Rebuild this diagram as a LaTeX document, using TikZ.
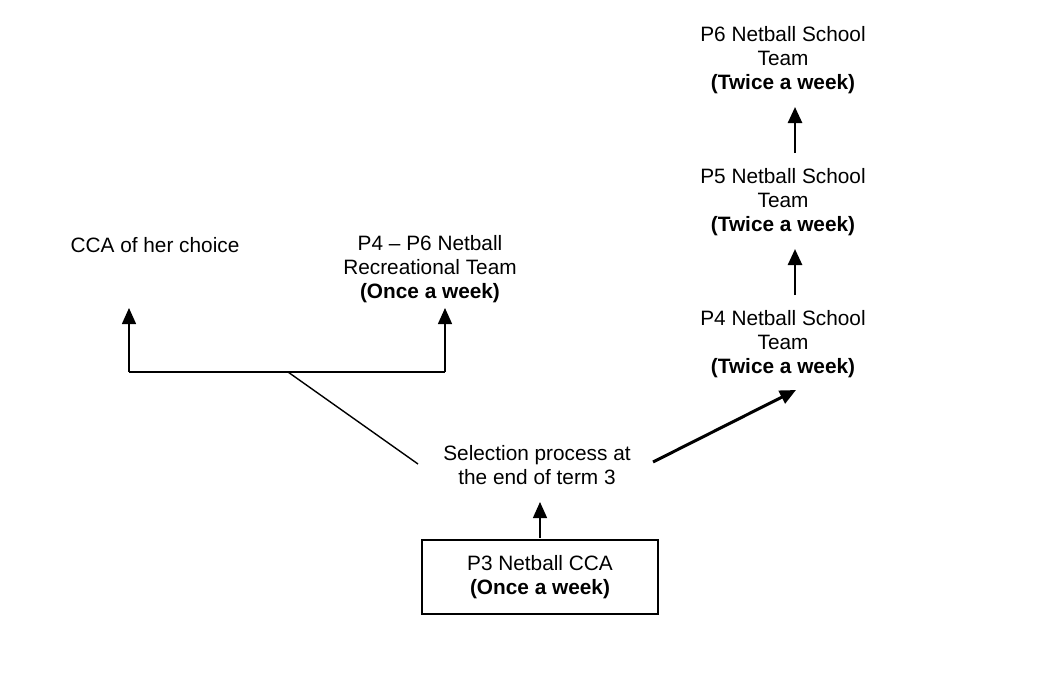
\documentclass[tikz,border=0pt]{standalone}
\usepackage{fontspec}
\setmainfont{Liberation Sans}
\usetikzlibrary{arrows.meta}
\tikzset{
  lbl/.style={align=center, inner sep=0pt, font=\fontsize{20.8}{24}\selectfont},
  tip/.style={-{Triangle[length=16pt,width=14pt]}},
  conn/.style={line width=1.4pt},
}
\begin{document}
\begin{tikzpicture}[x=1pt,y=-1pt]
\useasboundingbox (0,0) rectangle (1064,686);
% nodes
\node[lbl] (p6) at (783,60) {P6 Netball School\\Team\\\textbf{(Twice a week)}};
\node[lbl] (p5) at (783,202) {P5 Netball School\\Team\\\textbf{(Twice a week)}};
\node[lbl] (p4) at (783,344) {P4 Netball School\\Team\\\textbf{(Twice a week)}};
\node[lbl] (cca) at (155,245) {CCA of her choice};
\node[lbl] (rec) at (430,269) {P4 -- P6 Netball\\Recreational Team\\\textbf{(Once a week)}};
\node[lbl] (sel) at (537,465) {Selection process at\\the end of term 3};
\node[lbl, draw, line width=1.6pt, minimum width=236pt, minimum height=74pt] (p3) at (540,577) {P3 Netball CCA\\\textbf{(Once a week)}};
% connector anchor points
\coordinate (p5top) at (795,153);
\coordinate (p6bot) at (795,107);
\coordinate (p4top) at (795,295);
\coordinate (p5bot) at (795,249);
\coordinate (selR) at (653,462);
\coordinate (p4bot) at (796,390);
\coordinate (selB) at (540,538);
\coordinate (selBt) at (540,502);
\coordinate (selL) at (418,464);
\coordinate (fork) at (288,372);
\coordinate (lft) at (129,372);
\coordinate (lftt) at (129,308);
\coordinate (rgt) at (445,372);
\coordinate (rgtt) at (445,308);
% connectors
\draw[tip, line width=2.6pt] (p5top) -- (p6bot);
\draw[tip, line width=2.6pt] (p4top) -- (p5bot);
\draw[tip, line width=3pt] (selR) -- (p4bot);
\draw[tip, conn] (selB) -- (selBt);
\draw[conn] (selL) -- (fork);
\draw[conn] (lft) -- (rgt);
\draw[tip, conn] (lft) -- (lftt);
\draw[tip, conn] (rgt) -- (rgtt);
\end{tikzpicture}
\end{document}
